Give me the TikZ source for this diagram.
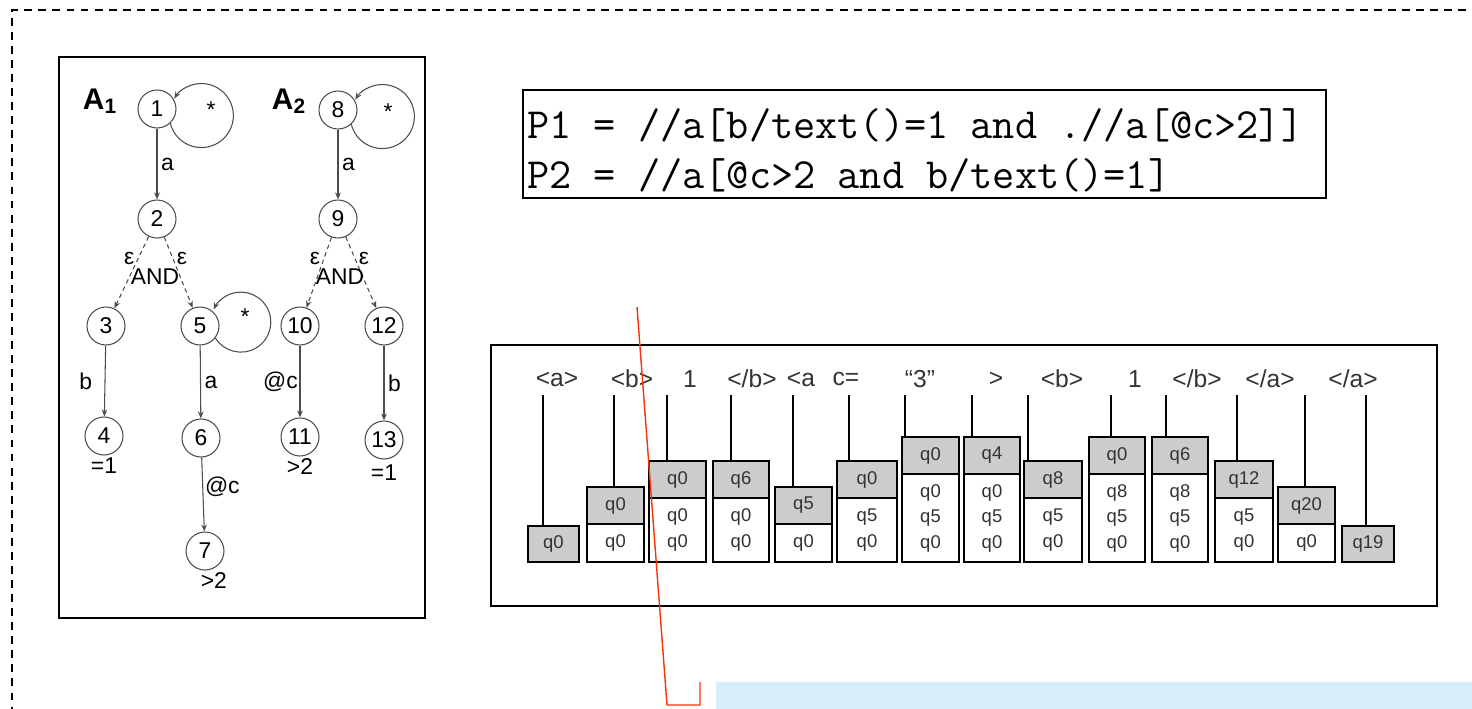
\documentclass[tikz,border=0pt]{standalone}
\usepackage{fontspec}
\setmainfont{Liberation Sans}
\usetikzlibrary{positioning,arrows.meta}
\definecolor{edgegray}{gray}{0.3}
\definecolor{cellgray}{gray}{0.8}
\definecolor{pointred}{RGB}{250,50,10}
\definecolor{noteblue}{RGB}{214,237,252}

\begin{document}
\begin{tikzpicture}[x=0.02cm, y=-0.02cm,
  state/.style={draw=edgegray, circle, minimum size=0.76cm, inner sep=0pt,
                line width=0.6pt, font=\fontsize{13}{13}\selectfont},
  arr/.style={-{Stealth[length=4pt,width=3.2pt]}, draw=edgegray, line width=0.6pt},
  eps/.style={arr, dash pattern=on 2.5pt off 2pt},
  lbl/.style={font=\fontsize{13}{13}\selectfont, inner sep=2pt},
  frame/.style={draw, line width=1.1pt},
  gcell/.style={draw, line width=1.1pt, fill=cellgray, minimum height=0.74cm,
                inner sep=0pt, outer sep=0pt, anchor=north west,
                font=\fontsize{10.5}{14.5}\selectfont, text=black!80},
  wcell/.style={draw, line width=1.1pt, fill=white, inner sep=0pt, outer sep=0pt,
                anchor=north west, align=center,
                font=\fontsize{10.5}{14.5}\selectfont, text=black!80},
  tok/.style={font=\fontsize{14}{14}\selectfont, text=black!80},
  stem/.style={line width=1.1pt},
]
  \useasboundingbox (0,0) rectangle (1472,708);
  \clip (0,0) rectangle (1472,708);

  % outer dashed frame
  \draw[line width=0.75pt, dash pattern=on 4.5pt off 3.5pt] (1480,10) -- (12,10) -- (12,720);

  % automata A1 and A2
  \draw[frame] (59,57) rectangle (425,618);
  \node[font=\fontsize{17}{17}\selectfont\bfseries] (A1) at (100,101) {A\textsubscript{1}};
  \node[font=\fontsize{17}{17}\selectfont\bfseries] (A2) at (289,101) {A\textsubscript{2}};

  \node[state] (n1) at (157,109) {1};
  \node[state] (n2) at (157,219) {2};
  \node[state] (n3) at (106,326) {3};
  \node[state] (n4) at (104,436) {4};
  \node[state] (n5) at (200,326) {5};
  \node[state] (n6) at (201,438) {6};
  \node[state] (n7) at (205,551) {7};

  \node[state] (n8) at (338,110) {8};
  \node[state] (n9) at (338,219) {9};
  \node[state] (n10) at (300,326) {10};
  \node[state] (n11) at (300,437) {11};
  \node[state] (n12) at (384,326) {12};
  \node[state] (n13) at (384,440) {13};

  \draw[arr] (n1.-47) arc[start angle=166, end angle=-148, radius=32];
  \draw[arr] (n8.-47) arc[start angle=166, end angle=-148, radius=32];
  \draw[arr] (n5.-38) arc[start angle=148, end angle=-155, radius=30];
  \node[lbl] (s1) at ([shift={(54,1)}]n1.center) {*};
  \node[lbl] (s8) at ([shift={(50,2)}]n8.center) {*};
  \node[lbl] (s5) at ([shift={(45,-9)}]n5.center) {*};

  \draw[arr] (n1) -- node[lbl, right] {a} (n2);
  \draw[eps] (n2) -- node[lbl, left, pos=.3] {ε} (n3);
  \draw[eps] (n2) -- node[lbl, right, pos=.3] {ε} (n5);
  \node[lbl] (and1) at (155,277) {AND};
  \draw[arr] (n3) -- node[lbl, left=5pt] {b} (n4);
  \draw[arr] (n5) -- node[lbl, right] {a} (n6);
  \draw[arr] (n6) -- node[lbl, right, inner sep=1pt, pos=.4] {@c} (n7);

  \draw[arr] (n8) -- node[lbl, right] {a} (n9);
  \draw[eps] (n9) -- node[lbl, left, pos=.3] {ε} (n10);
  \draw[eps] (n9) -- node[lbl, right, pos=.3] {ε} (n12);
  \node[lbl] (and2) at (340,277) {AND};
  \draw[arr] (n10) -- node[lbl, left, inner sep=1pt] {@c} (n11);
  \draw[arr] (n12) -- node[lbl, right] {b} (n13);

  \node[lbl, below=-1pt of n4] (c4) {=1};
  \node[lbl, below=-1pt of n11] (c11) {>2};
  \node[lbl, below=1pt of n13] (c13) {=1};
  \node[lbl, below=-1pt of n7, xshift=5pt] (c7) {>2};

  % the two queries
  \node[frame, anchor=north west, minimum width=16.06cm, minimum height=2.16cm,
        inner sep=0pt] (query) at (522,89) {};
  \node[anchor=north west, inner sep=0pt, align=left,
        font=\ttfamily\fontsize{24.5}{28.4}\selectfont]
        (qtext) at (527,108) {P1 = //a[b/text()=1 and .//a[@c>2]]\\P2 = //a[@c>2 and b/text()=1]};

  % stream of events and stacks
  \draw[frame] (491,345) rectangle (1437,606);
  \foreach \x/\t [count=\i] in {557/{<a>}, 632/{<b>}, 690/{1}, 752/{</b>}, 801/{<a},
      846/{c=}, 920/{``3''}, 996/{>}, 1062/{<b>}, 1135/{1}, 1197/{</b>}, 1270/{</a>}, 1353/{</a>}}
    \node[tok] (t\i) at (\x,379) {\t};

  \node[gcell, minimum width=1.02cm, minimum height=0.72cm] (st1) at (528,526) {q0};
  \foreach \n/\xl/\xr/\top/\g/\w in {2/587/644/487/q0/{q0}, 3/649/706/461/q0/{q0\\q0},
      4/713/769/461/q6/{q0\\q0}, 5/775/832/487/q5/{q0}, 6/837/897/461/q0/{q5\\q0},
      7/902/959/437/q0/{q0\\q5\\q0}, 8/964/1020/437/q4/{q0\\q5\\q0}, 9/1024/1082/461/q8/{q5\\q0},
      10/1089/1145/437/q0/{q8\\q5\\q0}, 11/1152/1208/437/q6/{q8\\q5\\q0},
      12/1215/1273/461/q12/{q5\\q0}, 13/1278/1335/487/q20/{q0}}
  {
    \node[gcell, minimum width={(\xr-\xl)*0.02cm}] (st\n) at (\xl,\top) {\g};
    \node[wcell, minimum width={(\xr-\xl)*0.02cm}, minimum height={(562-\top-37)*0.02cm}]
      (sw\n) at (st\n.south west) {\w};
  }
  \node[gcell, minimum width=1.04cm, minimum height=0.72cm] (st14) at (1342,526) {q19};

  \foreach \x [count=\i] in {543,614,667,731,793,849,905,972,1028,1111,1166,1237,1305,1366}
    \draw[stem] (\x,395) -- (st\i.north -| \x,0);

  % pointer to the note below
  \fill[noteblue] (716,682) rectangle (1480,720);
  \draw[pointred, line width=0.8pt] (637,307) -- (667,705) -- (700,705) -- (700,682);
\end{tikzpicture}
\end{document}
